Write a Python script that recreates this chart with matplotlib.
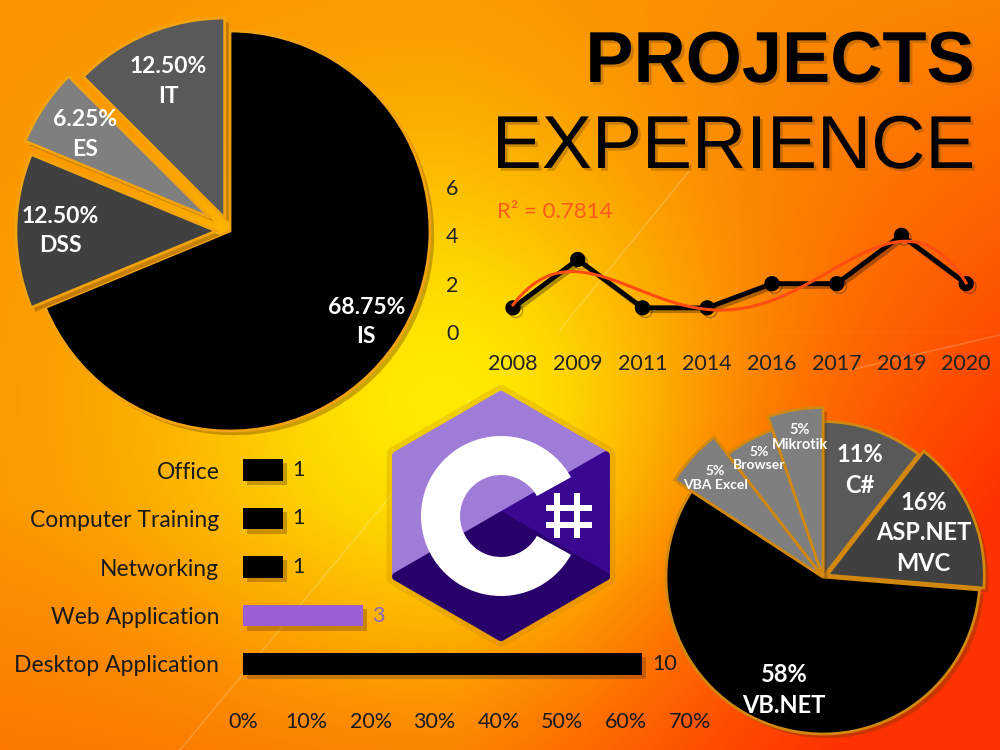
import numpy as np
import matplotlib.pyplot as plt
from matplotlib import patheffects as pe
from matplotlib.patches import Wedge, Polygon, Rectangle
from matplotlib.colors import to_rgb

# top-left pie: project areas
area_names = ['IS', 'DSS', 'ES', 'IT']
area_counts = [11, 2, 1, 2]

# line chart: projects per year
years = ['2008', '2009', '2011', '2014', '2016', '2017', '2019', '2020']
year_counts = [1, 3, 1, 1, 2, 2, 4, 2]
r2_value = 0.7814

# bar chart: project types
type_names = ['Office', 'Computer Training', 'Networking', 'Web Application', 'Desktop Application']
type_counts = [1, 1, 1, 3, 10]

# bottom-right pie: languages / tools
tool_names = ['C#', 'ASP.NET\nMVC', 'VB.NET', 'VBA Excel', 'Browser', 'Mikrotik']
tool_counts = [2, 3, 11, 1, 1, 1]

plt.rcParams['font.family'] = ['Lato', 'DejaVu Sans']
W, H = 1000, 750
fig = plt.figure(figsize=(10, 7.5), dpi=100)

# ---- background gradient
bg = fig.add_axes([0, 0, 1, 1], zorder=0)
bg.set_xlim(0, W)
bg.set_ylim(H, 0)
bg.axis('off')
yy, xx = np.mgrid[0:H, 0:W]
glow = np.exp(-(((xx - 440) / 280.0) ** 2 + ((yy - 400) / 260.0) ** 2))
red = np.clip((xx - 450) / 550.0, 0, 1) * np.clip((yy + 100) / 600.0, 0, 1) \
    + np.clip((yy - 500) / 250.0, 0, 1) * 0.3
red = np.clip(red, 0, 1) * (1 - glow)
orange = np.array(to_rgb('#fa9400'))
yellow = np.array(to_rgb('#ffea00'))
redc = np.array(to_rgb('#ff3000'))
img = orange[None, None, :] * (1 - glow[..., None]) + yellow[None, None, :] * glow[..., None]
img = img * (1 - red[..., None]) + redc[None, None, :] * red[..., None]
bg.imshow(img, extent=(0, W, H, 0), aspect='auto', zorder=0)
for (x1, y1, x2, y2) in [(180, 750, 470, 400), (560, 330, 690, 170), (850, 370, 1000, 335)]:
    bg.plot([x1, x2], [y1, y2], color='white', alpha=0.18, lw=1.2, zorder=1)

shadow = [pe.withSimplePatchShadow(offset=(3, -3), shadow_rgbFace='#6a3a00', alpha=0.35)]

# ---- C# logo
cx, cy, R = 501, 516, 121
ang = np.deg2rad([90, 30, -30, -90, -150, 150])
T, UR, LR, B, LL, UL = [(cx + R * np.cos(a), cy - R * np.sin(a)) for a in ang]
halo = Polygon([T, UR, LR, B, LL, UL], closed=True, facecolor='none', edgecolor='#c08000',
               lw=14, alpha=0.25, joinstyle='round', zorder=2)
bg.add_patch(halo)
for pts, col in [([LL, UL, T, UR], '#a07cd9'), ([UR, LR, (cx, cy)], '#3a0890'),
                 ([LR, B, LL, (cx, cy)], '#27006a')]:
    bg.add_patch(Polygon(pts, closed=True, facecolor=col, edgecolor=col, lw=6,
                         joinstyle='round', zorder=3))
bg.add_patch(Wedge((cx, cy), 80, 29, 331, width=39, facecolor='white', zorder=4))
for vx in (557, 577):
    bg.add_patch(Rectangle((vx - 3, 493), 6, 45, facecolor='white', zorder=4))
for hy in (508, 525):
    bg.add_patch(Rectangle((546, hy - 3), 46, 6, facecolor='white', zorder=4))

# ---- title
title_fx = [pe.withSimplePatchShadow(offset=(2, -2), shadow_rgbFace='#7a4a00', alpha=0.35)]
fig.text(0.975, (H - 82) / H, 'PROJECTS', ha='right', va='baseline', fontsize=52,
         fontweight='bold', family='Liberation Sans', color='black', path_effects=title_fx, zorder=5)
fig.text(0.975, (H - 168) / H, 'EXPERIENCE', ha='right', va='baseline', fontsize=54,
         family='Liberation Sans', color='black', path_effects=title_fx, zorder=5)

# ---- top-left pie
axp = fig.add_axes([(230 - 220) / W, (H - 231 - 220) / H, 440 / W, 440 / H], zorder=3)
w1, _ = axp.pie(area_counts, startangle=90, counterclock=False, radius=1,
                explode=[0, 0.07, 0.12, 0.07],
                colors=['#000000', '#404040', '#7f7f7f', '#595959'],
                wedgeprops=dict(edgecolor='#f2a30f', linewidth=2))
axp.set_xlim(-1.1, 1.1)
axp.set_ylim(-1.1, 1.1)
axp.axis('off')
top_lab_r = [0.82, 0.78, 0.75, 0.74]
tot_a = sum(area_counts)
for w, name, n, f in zip(w1, area_names, area_counts, top_lab_r):
    w.set_path_effects(shadow)
    w.set_clip_on(False)
    a = np.deg2rad((w.theta1 + w.theta2) / 2)
    x0, y0 = w.center
    axp.text(x0 + f * np.cos(a), y0 + f * np.sin(a), f'{100 * n / tot_a:.2f}%\n{name}',
             ha='center', va='center', color='white', fontsize=16.5, fontweight='bold',
             linespacing=1.5)

# ---- line chart
axl = fig.add_axes([480.6 / W, (H - 332) / H, 518 / W, 145 / H], zorder=3)
axl.patch.set_alpha(0)
xpos = np.arange(len(years))
axl.plot(xpos, year_counts, color='black', lw=3.5, marker='o', markersize=10,
         solid_joinstyle='round',
         path_effects=[pe.SimpleLineShadow(offset=(2, -2), alpha=0.3), pe.Normal()])
xs = np.arange(1, len(year_counts) + 1)
yc = np.array(year_counts, dtype=float)
best = None
for deg in range(2, 7):
    c = np.polyfit(xs, yc, deg)
    fit = np.polyval(c, xs)
    r2 = 1 - np.sum((yc - fit) ** 2) / np.sum((yc - yc.mean()) ** 2)
    if best is None or abs(r2 - r2_value) < best[0]:
        best = (abs(r2 - r2_value), c)
xd = np.linspace(1, len(year_counts), 300)
axl.plot(xd - 1, np.polyval(best[1], xd), color='#ff4d12', lw=2.2)
axl.axhline(0, color='white', alpha=0.2, lw=1)
axl.set_xlim(-0.5, len(years) - 0.5)
axl.set_ylim(0, 6)
axl.set_yticks([0, 2, 4, 6])
axl.set_xticks(xpos, years)
axl.tick_params(length=0, labelsize=15.5, colors='#222222')
axl.tick_params(axis='x', pad=16)
axl.tick_params(axis='y', pad=16)
for s in axl.spines.values():
    s.set_visible(False)
fig.text(497 / W, (H - 212) / H, f'R² = {r2_value}', ha='left', va='center',
         fontsize=16, color='#ff5a1e', zorder=5)

# ---- bar chart
axb = fig.add_axes([243 / W, (H - 688.25) / H, 447 / W, 242.5 / H], zorder=3)
axb.patch.set_alpha(0)
tot_t = sum(type_counts)
shares = [n / tot_t for n in type_counts]
bar_cols = ['#000000', '#000000', '#000000', '#9b5fd3', '#000000']
ypos = np.arange(len(type_names))
bars = axb.barh(ypos, shares, height=0.45, color=bar_cols)
for b in bars:
    b.set_path_effects(shadow)
labs = axb.bar_label(bars, labels=[str(n) for n in type_counts], padding=7, fontsize=15.5)
for t, col in zip(labs, ['#1a1a1a', '#1a1a1a', '#1a1a1a', '#8a6ab8', '#1a1a1a']):
    t.set_color(col)
axb.set_ylim(len(type_names) - 0.5, -0.5)
axb.set_xlim(0, 0.7)
ticks = np.arange(0, 0.71, 0.1)
axb.set_xticks(ticks, [f'{t * 100:.0f}%' for t in ticks])
axb.set_yticks(ypos, type_names)
axb.tick_params(length=0, labelsize=15.5, colors='#1a1a1a')
axb.tick_params(axis='y', labelsize=16.5, pad=17)
axb.tick_params(axis='x', pad=17)
for s in axb.spines.values():
    s.set_visible(False)

# ---- bottom-right pie
half = 190
axq = fig.add_axes([(823 - half) / W, (H - 577 - half) / H, 2 * half / W, 2 * half / H], zorder=3)
u = half / 157.0
w2, _ = axq.pie(tool_counts, startangle=90, counterclock=False, radius=1,
                explode=[0, 0.03, 0, 0, 0, 0],
                colors=['#595959', '#404040', '#000000', '#7f7f7f', '#7f7f7f', '#7f7f7f'],
                wedgeprops=dict(edgecolor='#d2880f', linewidth=2))
axq.set_xlim(-u, u)
axq.set_ylim(-u, u)
axq.axis('off')
tool_radius = [0.99, 1.0, 1.0, 1.13, 0.99, 1.08]
tool_lab_r = [0.72, 0.67, 0.76, 0.93, 0.86, 0.9]
tool_fs = [17, 17, 17, 10, 10, 10.5]
tot_l = sum(tool_counts)
for w, name, n, rr, f, fs in zip(w2, tool_names, tool_counts, tool_radius, tool_lab_r, tool_fs):
    w.set_radius(rr)
    w.set_path_effects(shadow)
    w.set_clip_on(False)
    a = np.deg2rad((w.theta1 + w.theta2) / 2)
    x0, y0 = w.center
    axq.text(x0 + f * np.cos(a), y0 + f * np.sin(a), f'{100 * n / tot_l:.0f}%\n{name}',
             ha='center', va='center', color='white', fontsize=fs, fontweight='bold',
             linespacing=1.4 if fs > 12 else 1.15)

fig.savefig('out.png', dpi=100)
